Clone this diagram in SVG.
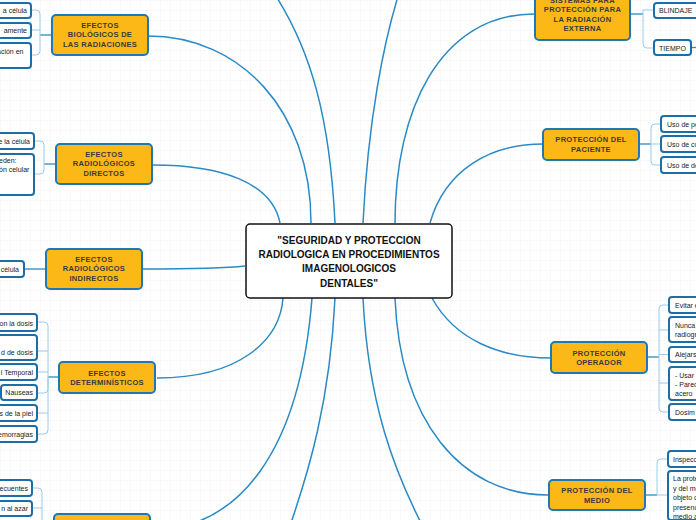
<svg xmlns="http://www.w3.org/2000/svg" width="696" height="520" viewBox="0 0 696 520">
<defs>
<pattern id="grid" width="10" height="10" patternUnits="userSpaceOnUse">
<path d="M10,0 L0,0 L0,10" fill="none" stroke="#f2f4f6" stroke-width="1"/>
</pattern>
<style>
.main{fill:none;stroke:#2a8ac5;stroke-width:1.5}
.br{fill:none;stroke:#9ccbe8;stroke-width:1}
.hub{fill:none;stroke:#2a8ac5;stroke-width:1.3}
.par rect{fill:#fbb817;stroke:#1f77b4;stroke-width:2}
.par text{font-family:"Liberation Sans",Arial,sans-serif;font-weight:bold;font-size:7.5px;letter-spacing:0.3px;fill:#3a3a3a;text-anchor:middle}
.leaf rect{fill:#ffffff;stroke:#1b6ea7;stroke-width:2}
.leaf text{font-family:"Liberation Sans",Arial,sans-serif;font-size:7px;fill:#222}
.l text{text-anchor:end}
.l text.s{text-anchor:start}
.ctr rect{fill:#ffffff;stroke:#111;stroke-width:1.5}
.ctr text{font-family:"Liberation Sans",Arial,sans-serif;font-weight:bold;font-size:10px;fill:#111;text-anchor:middle}
</style>
</defs>
<rect width="696" height="520" fill="#ffffff"/>
<rect width="696" height="520" fill="url(#grid)"/>

<g id="connectors">
<path class="main" d="M311,223 C311,110 240,36 148,36"/>
<path class="main" d="M280,223 C272,182 220,165 153,165"/>
<path class="main" d="M245,266 C228,268 200,269 143,269"/>
<path class="main" d="M335,223 C330,120 312,50 272,-10"/>
<path class="main" d="M363,223 C368,120 384,40 400,-10"/>
<path class="main" d="M395,223 C395,110 440,14 534,14"/>
<path class="main" d="M430,223 C445,170 490,144 543,144"/>
<path class="main" d="M283,298 C280,340 240,378 157,378"/>
<path class="main" d="M312,298 C300,450 240,530 150,530"/>
<path class="main" d="M335,298 C330,400 310,470 285,540"/>
<path class="main" d="M363,298 C368,400 392,470 430,540"/>
<path class="main" d="M395,298 C400,420 460,495 548,495"/>
<path class="main" d="M432,298 C455,340 500,358 551,358"/>

<path class="hub" d="M52,35 L40,35"/>
<path class="br" d="M40,35 L40,14 Q40,10 36,10 L31,10 M40,30 L31,30 M40,35 L40,51 Q40,55 36,55 L31,55"/>
<path class="hub" d="M55,164 L44,164"/>
<path class="br" d="M44,164 L44,145 Q44,141 40,141 L34,141 M44,164 L44,170 Q44,174 40,174 L34,174"/>
<path class="hub" d="M45,269 L24,269"/>
<path class="hub" d="M59,377 L48,377"/>
<path class="br" d="M48,377 L48,326 Q48,322 44,322 L37,322 M48,351 L37,351 M48,372 L37,372 M48,377 L48,389 Q48,393 44,393 L37,393 M48,413 L37,413 M48,377 L48,430 Q48,434 44,434 L37,434"/>
<path class="br" d="M42,530 L42,492 Q42,488 38,488 L32,488 M42,508 L32,508"/>
<path class="hub" d="M630,14 L643,14"/>
<path class="br" d="M643,14 L643,10 L654,10 M643,14 L643,44 Q643,48 647,48 L654,48"/>
<path class="hub" d="M691,47.5 L696,47.5"/>
<path class="hub" d="M639,144 L651,144"/>
<path class="br" d="M651,144 L651,128 Q651,124 655,124 L661,124 M651,144 L661,144 M651,144 L651,161 Q651,165 655,165 L661,165"/>
<path class="hub" d="M647,357 L659,357"/>
<path class="br" d="M659,357 L659,309 Q659,305 663,305 L669,305 M659,330 L669,330 M659,354.5 L669,354.5 M659,383 L669,383 M659,357 L659,408 Q659,412 663,412 L669,412"/>
<path class="hub" d="M646,495 L657,495"/>
<path class="br" d="M657,495 L657,463 Q657,459 661,459 L668,459 M657,495 L668,495"/>
</g>

<g id="center" class="ctr">
<rect x="246" y="224" width="206" height="74" rx="4"/>
<text x="349" y="243.5">"SEGURIDAD Y PROTECCION</text>
<text x="349" y="257.5">RADIOLOGICA EN PROCEDIMIENTOS</text>
<text x="349" y="272">IMAGENOLOGICOS</text>
<text x="349" y="286.5">DENTALES"</text>
</g>

<g id="biologicos" class="par">
<rect x="52" y="15" width="96" height="40" rx="4"/>
<text x="100" y="27.5">EFECTOS</text>
<text x="100" y="37">BIOLÓGICOS DE</text>
<text x="100" y="46.5">LAS RADIACIONES</text>
</g>
<g id="bio-1" class="leaf l"><rect x="-10" y="3" width="41" height="15" rx="3"/><text x="27" y="12.5">a célula</text></g>
<g id="bio-2" class="leaf l"><rect x="-10" y="23" width="41" height="15" rx="3"/><text x="27" y="32.5">amente</text></g>
<g id="bio-3" class="leaf l"><rect x="-10" y="43" width="41" height="25" rx="3"/><text class="s" x="-3" y="53.5">ación en</text></g>

<g id="directos" class="par">
<rect x="56" y="144" width="96" height="40" rx="4"/>
<text x="104" y="156.5">EFECTOS</text>
<text x="104" y="166">RADIOLÓGICOS</text>
<text x="104" y="175.5">DIRECTOS</text>
</g>
<g id="dir-1" class="leaf l"><rect x="-10" y="133" width="44" height="16" rx="3"/><text x="30" y="143.5">e la célula</text></g>
<g id="dir-2" class="leaf l"><rect x="-10" y="154" width="44" height="41" rx="3"/><text class="s" x="-1" y="162.5">eden:</text><text class="s" x="-1" y="171.5">ón celular</text></g>

<g id="indirectos" class="par">
<rect x="46" y="249" width="96" height="40" rx="4"/>
<text x="94" y="261.5">EFECTOS</text>
<text x="94" y="271">RADIOLÓGICOS</text>
<text x="94" y="280.5">INDIRECTOS</text>
</g>
<g id="ind-1" class="leaf l"><rect x="-10" y="261" width="34" height="16" rx="3"/><text x="19" y="271.5">célula</text></g>

<g id="deterministicos" class="par">
<rect x="59" y="362" width="96" height="31" rx="4"/>
<text x="107" y="375.5">EFECTOS</text>
<text x="107" y="385">DETERMINÍSTICOS</text>
</g>
<g id="det-1" class="leaf l"><rect x="-10" y="314" width="47" height="17" rx="3"/><text x="33" y="325.5">on la dosis</text></g>
<g id="det-2" class="leaf l"><rect x="-10" y="335" width="47" height="25" rx="3"/><text x="33" y="354.5">d de dosis</text></g>
<g id="det-3" class="leaf l"><rect x="-10" y="364" width="47" height="16" rx="3"/><text x="33" y="374.5">l Temporal</text></g>
<g id="det-4" class="leaf l"><rect x="1" y="385" width="36" height="15" rx="3"/><text x="33" y="395">Nauseas</text></g>
<g id="det-5" class="leaf l"><rect x="-10" y="405" width="47" height="16" rx="3"/><text x="33" y="415.5">s de la piel</text></g>
<g id="det-6" class="leaf l"><rect x="-10" y="426" width="47" height="16" rx="3"/><text x="33" y="436.5">emorragias</text></g>

<g id="estocasticos" class="par">
<rect x="54" y="514" width="96" height="34" rx="4"/>
</g>
<g id="est-1" class="leaf l"><rect x="-10" y="480" width="42" height="16" rx="3"/><text x="28" y="490.5">ecuentes</text></g>
<g id="est-2" class="leaf l"><rect x="-10" y="501" width="42" height="15" rx="3"/><text x="28" y="511">n al azar</text></g>

<g id="sistemas" class="par">
<rect x="535" y="-12" width="95" height="52" rx="4"/>
<text x="582.5" y="2.5">SISTEMAS PARA</text>
<text x="582.5" y="12">PROTECCIÓN PARA</text>
<text x="582.5" y="21.5">LA RADIACIÓN</text>
<text x="582.5" y="31">EXTERNA</text>
</g>
<g id="sis-1" class="leaf"><rect x="654" y="3" width="60" height="15" rx="3"/><text x="659" y="13">BLINDAJE</text></g>
<g id="sis-2" class="leaf"><rect x="654" y="40" width="37" height="15" rx="3"/><text x="659" y="50.5">TIEMPO</text></g>

<g id="paciente" class="par">
<rect x="543" y="129" width="96" height="31" rx="4"/>
<text x="591" y="142">PROTECCIÓN DEL</text>
<text x="591" y="151.5">PACIENTE</text>
</g>
<g id="pac-1" class="leaf"><rect x="661" y="116" width="60" height="16" rx="3"/><text x="667" y="127">Uso de pe</text></g>
<g id="pac-2" class="leaf"><rect x="661" y="136" width="60" height="16" rx="3"/><text x="667" y="147">Uso de co</text></g>
<g id="pac-3" class="leaf"><rect x="661" y="157" width="60" height="16" rx="3"/><text x="667" y="168">Uso de de</text></g>

<g id="operador" class="par">
<rect x="551" y="342" width="96" height="31" rx="4"/>
<text x="599" y="355.5">PROTECCIÓN</text>
<text x="599" y="365">OPERADOR</text>
</g>
<g id="op-1" class="leaf"><rect x="669" y="297" width="60" height="16" rx="3"/><text x="675" y="307.5">Evitar e</text></g>
<g id="op-2" class="leaf"><rect x="669" y="317" width="60" height="25" rx="3"/><text x="675" y="327.5">Nunca</text><text x="675" y="336.5">radiogr</text></g>
<g id="op-3" class="leaf"><rect x="669" y="347" width="60" height="15" rx="3"/><text x="675" y="357">Alejars</text></g>
<g id="op-4" class="leaf"><rect x="669" y="367" width="60" height="33" rx="3"/><text x="675" y="377.5">- Usar</text><text x="675" y="386.5">- Pared</text><text x="675" y="395.5">acero</text></g>
<g id="op-5" class="leaf"><rect x="669" y="404" width="60" height="16" rx="3"/><text x="675" y="414.5">Dosim</text></g>

<g id="medio" class="par">
<rect x="549" y="480" width="96" height="30" rx="4"/>
<text x="597" y="493">PROTECCIÓN DEL</text>
<text x="597" y="502.5">MEDIO</text>
</g>
<g id="med-1" class="leaf"><rect x="668" y="451" width="60" height="16" rx="3"/><text x="673" y="461.5">Inspecc</text></g>
<g id="med-2" class="leaf"><rect x="668" y="471" width="60" height="49" rx="3"/><text x="673" y="481">La prote</text><text x="673" y="490.5">y del me</text><text x="673" y="500">objeto c</text><text x="673" y="509.5">presenc</text><text x="673" y="519">medio a</text></g>
</svg>
